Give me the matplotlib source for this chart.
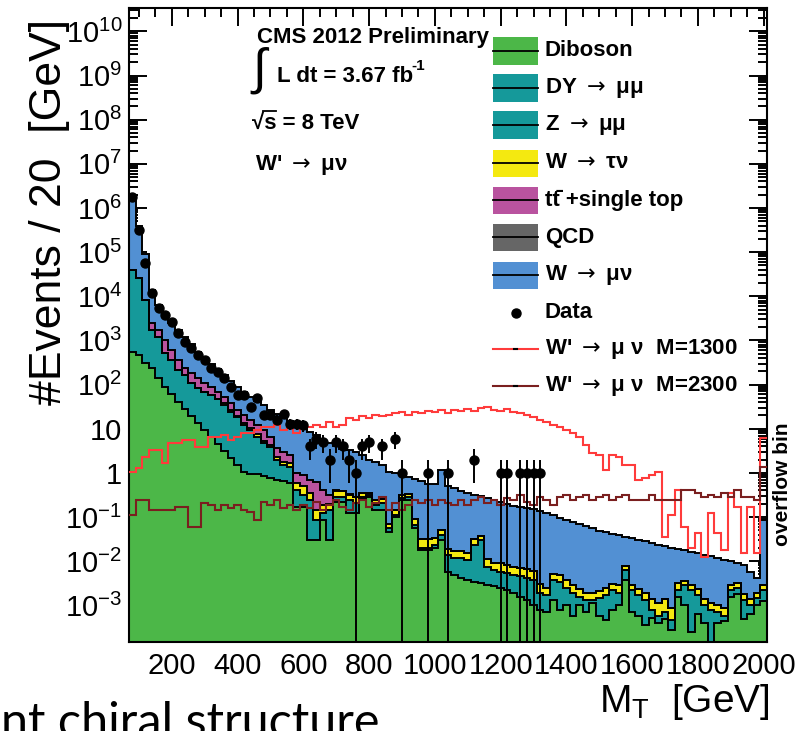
import numpy as np
import matplotlib
matplotlib.use("Agg")
import matplotlib.pyplot as plt
from matplotlib.patches import Rectangle
from matplotlib.lines import Line2D
from matplotlib.ticker import FixedLocator, FuncFormatter, MultipleLocator, LogLocator

W, H = 798, 731

# ---------------- data ----------------
bin_edges = np.arange(70, 2011, 20)          # 97 bins of 20 GeV, last one = overflow bin

# cumulative stack tops, given as log10(events / 20 GeV); -9 = not visible
diboson_top_exp = [
    2.74, 2.67, 2.49, 2.37, 2.15, 1.94, 1.78, 1.60, 1.44, 1.29,
    1.13, 0.97, 0.81, 0.65, 0.49, 0.33, 0.17, 0.02, -0.03, -0.03,
    -0.07, -0.12, -0.17, -0.19, -0.23, -0.78, -0.78, -1.53, -1.53, -1.07,
    -1.53, -0.66, -0.66, -0.91, -0.91, -0.58, -0.55, -0.85, -0.85, -1.34,
    -1.00, -0.62, -0.62, -1.25, -1.75, -1.75, -1.69, -1.53, -2.25, -2.32,
    -2.37, -2.43, -2.48, -2.50, -2.55, -2.57, -2.61, -2.66, -2.71, -2.82,
    -2.89, -3.00, -3.11, -3.16, -2.89, -3.11, -3.00, -3.23, -3.00, -3.16,
    -2.95, -3.23, -3.34, -3.11, -3.00, -2.43, -3.16, -3.23, -3.45, -3.29,
    -3.40, -3.30, -3.55, -2.80, -3.00, -3.60, -3.20, -3.40, -3.90, -3.40,
    -3.35, -2.80, -2.75, -3.30, -3.20, -3.00, -2.90]

dy_z_top_exp = [
    4.60, 4.42, 3.92, 3.24, 3.08, 2.71, 2.56, 2.33, 2.22, 2.03,
    1.92, 1.83, 1.76, 1.67, 1.54, 1.38, 1.26, 1.08, 0.97, 0.81,
    0.67, 0.58, 0.29, 0.17, 0.13, -0.39, -0.51, -0.62, -1.07, -0.91,
    -0.85, -0.55, -0.55, -0.62, -0.69, -0.55, -0.51, -0.73, -0.69, -1.25,
    -0.96, -0.57, -0.55, -1.19, -1.69, -1.69, -1.64, -1.41, -1.87, -1.93,
    -1.93, -1.98, -1.64, -1.53, -2.12, -2.21, -2.25, -2.27, -2.32, -2.34,
    -2.39, -2.43, -2.71, -2.77, -2.43, -2.48, -2.61, -2.71, -2.80, -2.89,
    -2.89, -2.84, -2.77, -2.66, -2.71, -2.21, -2.66, -2.77, -2.89, -3.11,
    -3.23, -3.16, -3.34, -2.66, -2.55, -2.66, -2.77, -3.00, -3.11, -3.16,
    -3.23, -2.66, -2.61, -2.89, -3.00, -2.84, -2.66]

wtaunu_top_exp = [
    -9, -9, -9, -9, -9, -9, -9, -9, -9, -9,
    -9, -9, -9, -9, 1.58, 1.42, 1.30, 1.13, 1.02, 0.87,
    0.73, 0.64, 0.36, 0.25, 0.22, -0.23, -0.30, -0.45, -0.85, -0.72,
    -0.70, -0.42, -0.42, -0.50, -0.55, -0.45, -0.45, -0.62, -0.58, -1.15,
    -0.85, -0.50, -0.48, -1.05, -1.50, -1.50, -1.48, -1.30, -1.72, -1.76,
    -1.78, -1.82, -1.50, -1.42, -1.95, -2.05, -2.05, -2.08, -2.12, -2.15,
    -2.18, -2.22, -2.52, -2.60, -2.30, -2.32, -2.42, -2.55, -2.62, -2.72,
    -2.72, -2.68, -2.60, -2.52, -2.55, -2.10, -2.55, -2.62, -2.72, -2.85,
    -2.95, -2.85, -3.05, -2.50, -2.45, -2.55, -2.62, -2.85, -2.95, -3.00,
    -3.05, -2.55, -2.50, -2.75, -2.85, -2.72, -2.55]

ttbar_top_exp = [
    -9, -9, -9, 3.39, 3.24, 3.01, 2.78, 2.56, 2.37, 2.26,
    2.15, 2.03, 1.94, 1.83, 1.72, 1.58, 1.42, 1.31, 1.20, 1.08,
    0.97, 0.81, 0.56, 0.47, 0.40, -0.01, -0.05, -0.17, -0.21, -0.39,
    -0.51, -0.38, -0.40, -0.48, -9, -9, -9, -9, -9, -9,
    -9, -9, -9, -9, -9, -9, -9, -9, -9, -9,
    -9, -9, -9, -9, -9, -9, -9, -9, -9, -9,
    -9, -9, -9, -9, -9, -9, -9, -9, -9, -9,
    -9, -9, -9, -9, -9, -9, -9, -9, -9, -9,
    -9, -9, -9, -9, -9, -9, -9, -9, -9, -9,
    -9, -9, -9, -9, -9, -9, -9]

wmunu_top_exp = [
    6.27, 5.60, 4.95, 4.14, 3.80, 3.53, 3.39, 3.24, 3.08, 2.92,
    2.74, 2.60, 2.46, 2.35, 2.22, 2.08, 1.94, 1.83, 1.72, 1.63,
    1.54, 1.42, 1.33, 1.24, 1.17, 1.08, 0.99, 0.92, 0.85, 0.74,
    0.67, 0.61, 0.54, 0.51, 0.47, 0.40, 0.29, 0.24, 0.17, 0.02,
    0.00, -0.05, -0.10, -0.14, -0.19, -0.26, -0.26, 0.06, -0.30, -0.35,
    -0.41, -0.46, -0.51, -0.53, -0.57, -0.62, -0.66, -0.71, -0.76, -0.78,
    -0.80, -0.82, -0.87, -0.91, -0.96, -1.03, -1.07, -1.12, -1.16, -1.21,
    -1.25, -1.32, -1.34, -1.39, -1.41, -1.46, -1.48, -1.53, -1.55, -1.59,
    -1.64, -1.66, -1.71, -1.73, -1.75, -1.80, -1.82, -1.87, -1.89, -1.93,
    -1.98, -2.00, -2.05, -2.09, -2.25, -2.37, -1.07]

wprime1300_exp = [
    0.02, 0.10, 0.36, 0.51, 0.51, 0.22, 0.67, 0.67, 0.74, 0.74,
    0.58, 0.58, 0.81, 0.81, 0.85, 0.74, 0.81, 0.90, 0.90, 0.97,
    1.03, 1.05, 1.08, 0.97, 1.13, 0.90, 1.08, 1.05, 1.08, 1.05,
    1.15, 1.03, 1.08, 1.24, 1.20, 1.29, 1.24, 1.31, 1.29, 1.31,
    1.35, 1.38, 1.31, 1.38, 1.35, 1.40, 1.38, 1.42, 1.35, 1.42,
    1.40, 1.44, 1.40, 1.47, 1.49, 1.42, 1.40, 1.44, 1.38, 1.35,
    1.31, 1.26, 1.20, 1.15, 1.08, 1.05, 0.97, 0.90, 0.81, 0.63,
    0.45, 0.40, 0.06, 0.40, 0.36, 0.17, 0.17, -0.17, -0.12, -0.05,
    0.02, -1.46, -0.96, -0.39, -1.23, -1.69, -1.37, -1.91, -0.91, -1.37,
    -1.75, -0.46, -0.78, -1.82, -0.78, -1.82, 0.79]

wprime2300_exp = [
    -0.96, -0.62, -0.62, -0.85, -0.85, -0.85, -0.85, -0.78, -0.78, -1.23,
    -1.23, -0.69, -0.73, -0.85, -0.73, -0.80, -0.73, -0.85, -0.89, -1.07,
    -0.66, -0.73, -0.62, -0.80, -0.73, -0.85, -0.73, -0.80, -0.66, -0.85,
    -0.73, -0.62, -0.78, -0.85, -0.69, -0.62, -0.78, -0.69, -0.55, -0.85,
    -0.69, -0.85, -0.73, -0.62, -0.69, -0.62, -0.73, -0.62, -0.69, -0.73,
    -0.62, -0.73, -0.62, -0.55, -0.69, -0.62, -0.73, -0.57, -0.62, -0.51,
    -0.66, -0.73, -0.55, -0.62, -0.73, -0.55, -0.51, -0.62, -0.55, -0.51,
    -0.62, -0.55, -0.51, -0.62, -0.55, -0.51, -0.62, -0.62, -0.62, -0.51,
    -0.62, -0.62, -0.62, -0.62, -0.39, -0.39, -0.46, -0.55, -0.51, -0.55,
    -0.46, -0.55, -0.39, -0.55, -0.55, -0.62, 0.13]

data_counts = [
    1800000, 320000, 56000, 11700, 5400, 3800, 2600, 1480, 920, 675,
    470, 360, 236, 190, 140, 88, 58, 58, 31, 49,
    20, 20, 16, 22, 13, 13, 12, 4, 6, 5,
    2, 5, 4, 2, 1, 4, 5, 0, 4, 0,
    6, 1, 0, 0, 0, 1, 0, 0, 1, 0,
    0, 0, 2, 0, 0, 0, 1, 1, 0, 1,
    1, 1, 1, 0, 0, 0, 0, 0, 0, 0,
    0, 0, 0, 0, 0, 0, 0, 0, 0, 0,
    0, 0, 0, 0, 0, 0, 0, 0, 0, 0,
    0, 0, 0, 0, 0, 0, 0]

ARROW = r"$\mathsf{\rightarrow}$"
legend_labels = ["Diboson", "DY " + ARROW + " \u03bc\u03bc", "Z " + ARROW + " \u03bc\u03bc",
                 "W " + ARROW + " \u03c4\u03bd", "tt\u0304 +single top", "QCD",
                 "W " + ARROW + " \u03bc\u03bd", "Data",
                 "W' " + ARROW + " \u03bc \u03bd  M=1300", "W' " + ARROW + " \u03bc \u03bd  M=2300"]
x_ticks = [200, 400, 600, 800, 1000, 1200, 1400, 1600, 1800, 2000]

# ---------------- style ----------------
c_green = "#4cb748"
c_teal = "#15999a"
c_yellow = "#f4e910"
c_magenta = "#b9539f"
c_gray = "#666666"
c_blue = "#5290d3"
c_red = "#ff3b3b"
c_dred = "#7a1f1f"
FONT = ["Liberation Sans", "DejaVu Sans"]
plt.rcParams["font.family"] = FONT
plt.rcParams["mathtext.fontset"] = "custom"
plt.rcParams["mathtext.rm"] = "Liberation Sans"
plt.rcParams["mathtext.bf"] = "Liberation Sans:bold"
plt.rcParams["mathtext.sf"] = "DejaVu Sans"

fig = plt.figure(figsize=(W / 100, H / 100), dpi=100)
ax = fig.add_axes([129 / W, 1 - 642 / H, 638 / W, 634 / H])
ax.set_yscale("log")
ymin, ymax = 10 ** -3.83, 10 ** 10.53
ax.set_xlim(bin_edges[0], bin_edges[-1])
ax.set_ylim(ymin, ymax)

layers = [diboson_top_exp, dy_z_top_exp, wtaunu_top_exp, ttbar_top_exp, wmunu_top_exp]
colors = [c_green, c_teal, c_yellow, c_magenta, c_blue]
tops = []
prev = np.full(len(bin_edges) - 1, -9.0)
for arr in layers:
    cur = np.maximum(np.array(arr, float), prev)
    tops.append(10 ** cur)
    prev = cur
base = np.full(len(bin_edges) - 1, 1e-6)
for top, col in zip(tops, colors):
    ax.stairs(top, bin_edges, baseline=base, fill=True, facecolor=col, edgecolor="none", zorder=2)
    base = top
for top in tops:
    ax.stairs(top, bin_edges, baseline=None, color="black", lw=1.4, zorder=3)

ax.stairs(10 ** np.array(wprime1300_exp), bin_edges, baseline=None, color=c_red, lw=1.5, zorder=4)
ax.stairs(10 ** np.array(wprime2300_exp), bin_edges, baseline=None, color=c_dred, lw=1.5, zorder=4)

centers = 0.5 * (bin_edges[:-1] + bin_edges[1:])
dc = np.array(data_counts, float)
m = dc > 0
err = np.sqrt(dc[m])
ax.errorbar(centers[m], dc[m], yerr=[np.minimum(err, dc[m]), err], fmt="o", color="black",
            ms=6.5, elinewidth=1.4, capsize=0, zorder=5)

# axes styling
for s in ax.spines.values():
    s.set_linewidth(1.5)
ax.xaxis.set_major_locator(FixedLocator(x_ticks))
ax.xaxis.set_minor_locator(MultipleLocator(50))
ax.yaxis.set_major_locator(LogLocator(base=10, numticks=30))
ax.yaxis.set_minor_locator(LogLocator(base=10, subs=np.arange(2, 10), numticks=30))


def yfmt(v, pos):
    e = int(round(np.log10(v)))
    if e == 0:
        return "1"
    if e == 1:
        return "10"
    return r"$\mathdefault{10^{%d}}$" % e


ax.yaxis.set_major_formatter(FuncFormatter(yfmt))
ax.yaxis.set_minor_formatter(FuncFormatter(lambda v, p: ""))
ax.tick_params(which="both", direction="in", top=True, right=True, width=1.4)
ax.tick_params(which="major", length=13, labelsize=21, pad=5)
ax.tick_params(which="minor", length=6.5)
ax.tick_params(axis="x", which="major", pad=7)


def P(x, y):
    return (x / W, 1 - y / H)


# y / x axis titles
fig.text(*P(50, 212), "#Events / 20  [GeV]", rotation=90, ha="center", va="center", fontsize=32)
fig.text(*P(770, 702), "M$_{\\mathdefault{T}}$  [GeV]", ha="right", va="center", fontsize=28)
fig.text(*P(782, 484), "overflow bin", rotation=90, ha="center", va="center", fontsize=15, fontweight="bold")

# CMS labels
fig.text(*P(257, 37), "CMS 2012 Preliminary", ha="left", va="center", fontsize=16, fontweight="bold")
fig.text(*P(260, 71), r"$\int$", ha="center", va="center", fontsize=36)
fig.text(*P(277, 77), "L dt = 3.67 fb", ha="left", va="center", fontsize=16, fontweight="bold")
fig.text(*P(411, 66), "-1", ha="left", va="center", fontsize=11, fontweight="bold")
fig.text(*P(252, 123), "\u221as = 8 TeV", ha="left", va="center", fontsize=16, fontweight="bold")
fig.add_artist(Line2D([263 / W, 276 / W], [1 - 111 / H, 1 - 111 / H], color="black", lw=1.3,
                      transform=fig.transFigure))
fig.text(*P(255, 165), "W' " + ARROW + " \u03bc\u03bd", ha="left", va="center", fontsize=16,
         fontweight="bold")

# legend
rows = [51, 88, 125, 163, 200, 237, 275, 313, 349, 386]
box_cols = [c_green, c_teal, c_teal, c_yellow, c_magenta, c_gray, c_blue]
for i, (yc, lab) in enumerate(zip(rows, legend_labels)):
    if i < 7:
        x0, y0 = P(493, yc + 13.5)
        fig.add_artist(Rectangle((x0, y0), 45 / W, 27 / H, transform=fig.transFigure,
                                 facecolor=box_cols[i], edgecolor="none"))
        fig.add_artist(Line2D([493 / W, 538 / W], [1 - yc / H] * 2, color="black", lw=1.3,
                              transform=fig.transFigure))
    elif i == 7:
        fig.add_artist(Line2D([515.5 / W], [1 - yc / H], marker="o", ms=6.5, color="black",
                              transform=fig.transFigure))
    else:
        col = c_red if i == 8 else c_dred
        fig.add_artist(Line2D([493 / W, 538 / W], [1 - yc / H] * 2, color=col, lw=1.5,
                              transform=fig.transFigure))
        fig.add_artist(Line2D([514 / W, 517 / W], [1 - yc / H] * 2, color="black", lw=1.5,
                              transform=fig.transFigure))
    fig.text(*P(545, yc), lab, ha="left", va="center", fontsize=16, fontweight="bold")

# slide text fragment at the bottom
fig.text(*P(1, 737), "nt chiral structure", ha="left", va="baseline", fontsize=35,
         family=["Lato", "DejaVu Sans"])

fig.savefig("out.png", dpi=100)
